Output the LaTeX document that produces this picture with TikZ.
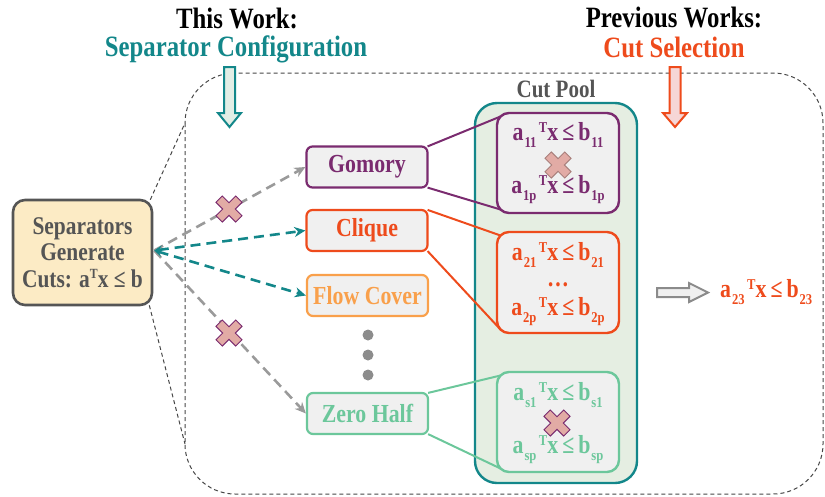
\documentclass[tikz,border=0pt]{standalone}
\usepackage{fontspec}
\setmainfont{Liberation Serif}[FakeStretch=0.84]
\usetikzlibrary{arrows.meta,calc}

\definecolor{teal}{HTML}{13878A}
\definecolor{cutred}{HTML}{EE4B1C}
\definecolor{purp}{HTML}{7A2B6F}
\definecolor{flowor}{HTML}{F9A04B}
\definecolor{zgreen}{HTML}{6CC79B}
\definecolor{sepgray}{HTML}{555555}
\definecolor{sepfill}{HTML}{FCEBC5}
\definecolor{boxfill}{HTML}{F0F0F0}
\definecolor{poolfill}{HTML}{E5EEE2}
\definecolor{crossfill}{HTML}{E2ABA5}
\definecolor{dotgray}{HTML}{8C8C8C}
\definecolor{arrgray}{HTML}{9A9A9A}
\definecolor{tealfill}{HTML}{E3EEE6}
\definecolor{redfill}{HTML}{F6D6D6}

\newcommand\ineqsz{\fontsize{26}{28}\selectfont}
\newcommand\smsz{\fontsize{15}{16}\selectfont}
% a_{i}^T x <= b_{i} set with lowered indices and a raised T
\newcommand\cutineq[2]{a\kern1pt\raisebox{-0.3em}{\smsz #1}\kern2.5pt\raisebox{0.3em}{\smsz T}x\kern4pt≤\kern4pt b\kern1pt\raisebox{-0.3em}{\smsz #2}}

\begin{document}
\begin{tikzpicture}[x=1pt,y=-1pt,font=\bfseries,
  txt/.style={inner sep=0pt},
  title/.style={txt,anchor=base,font=\bfseries\fontsize{29.5}{31}\selectfont},
  genbox/.style={draw,line width=2.2pt,rounded corners=6pt,fill=boxfill,
    minimum width=121pt,minimum height=41pt,inner sep=0pt,
    font=\bfseries\fontsize{26}{28}\selectfont},
  cutbox/.style={draw,line width=2.4pt,rounded corners=12pt,fill=boxfill,
    minimum width=122pt,minimum height=100pt,inner sep=0pt},
  funnel/.style={draw=black!72,line width=1pt,dash pattern=on 4pt off 3pt},
  flow/.style={line width=2.6pt,dash pattern=on 10pt off 6pt,
    -{Stealth[length=11pt,width=10pt,inset=3.5pt]}},
  link/.style={line width=2pt},
  xcross/.pic={\draw[line width=0.9pt,fill=crossfill,rotate=45,pic actions]
    (4.5,4.5)--(4.5,14)--(-4.5,14)--(-4.5,4.5)--(-14,4.5)--(-14,-4.5)
    --(-4.5,-4.5)--(-4.5,-14)--(4.5,-14)--(4.5,-4.5)--(14,-4.5)--(14,4.5)--cycle;}
]
\useasboundingbox (0,0) rectangle (825,496);

% enclosing dashed region
\draw[funnel,rounded corners=50pt] (185,73) rectangle (823,494);

% column titles and their block arrows
\node[title] (tw) at (237,28) {This Work:};
\node[title,text=teal] (sc) at (236,56) {Separator Configuration};
\node[title] (pw) at (674,27) {Previous Works:};
\node[title,text=cutred] (cs) at (674,57) {Cut Selection};
\draw[teal,line width=2pt,fill=tealfill,line join=miter]
  (224,67)--(235,67)--(235,113)--(241,113)--(229.5,127)--(218,113)--(224,113)--cycle;
\draw[cutred,line width=2pt,fill=redfill,line join=miter]
  (669.5,67)--(680.5,67)--(680.5,113)--(687,113)--(675,127)--(663,113)--(669.5,113)--cycle;

% cut pool
\node[txt,anchor=base,text=sepgray,font=\bfseries\fontsize{25}{27}\selectfont] (cpl) at (556,97) {Cut Pool};
\node[draw=teal,line width=2.4pt,rounded corners=22pt,fill=poolfill,
  minimum width=162pt,minimum height=380pt] (pool) at (556,293) {};

% separator box
\node[draw=sepgray,line width=2.6pt,rounded corners=12pt,fill=sepfill,
  minimum width=139pt,minimum height=105pt,align=center,text=sepgray,
  font=\bfseries\fontsize{25.5}{26.5}\selectfont] (sep) at (82.5,252.5)
  {Separators\\Generate\\Cuts: a\raisebox{0.35em}{\fontsize{14}{14}\selectfont T}x ≤ b};

\draw[funnel] ($(sep.north east)+(-3,1)$) -- (185,123);
\draw[funnel] ($(sep.south east)+(-4,-1)$) -- (185,444);

% separators
\node[genbox,draw=purp,text=purp] (gom) at (367,167) {Gomory};
\node[genbox,draw=cutred,text=cutred] (clq) at (367,230.5) {Clique};
\node[genbox,draw=flowor,text=flowor] (flw) at (367.5,295.5) {Flow Cover};
\node[genbox,draw=zgreen,text=zgreen] (zh) at (367.5,413.5) {Zero Half};
\fill[dotgray] (368,335) circle (5.5) (368,355) circle (5.5) (368,375) circle (5.5);

% configuration arrows
\coordinate (src) at ($(sep.east)+(1,-2)$);
\draw[flow,arrgray] (src) -- (gom.west);
\draw[flow,arrgray] (src) -- (zh.west);
\draw[flow,teal,{Stealth[length=8pt,width=8pt,inset=3pt]}-{Stealth[length=11pt,width=10pt,inset=3.5pt]}] (src) -- (clq.west);
\draw[flow,teal,{Stealth[length=8pt,width=8pt,inset=3pt]}-{Stealth[length=11pt,width=10pt,inset=3.5pt]}] (src) -- (flw.west);
\pic[draw=purp] at (229,209) {xcross};
\pic[draw=purp] at (229,333) {xcross};

% cut boxes
\coordinate (c1c) at (558,163);
\coordinate (c2c) at (558,282.5);
\coordinate (c3c) at (558,422);
\draw[link,purp] ($(gom.north east)+(-1,1)$) -- ($(c1c)+(-57.5,-46.5)$);
\draw[link,purp] ($(gom.south east)+(-1,-1)$) -- ($(c1c)+(-57.5,46.5)$);
\draw[link,cutred] ($(clq.north east)+(-1,1)$) -- ($(c2c)+(-57.5,-47)$);
\draw[link,cutred] ($(clq.south east)+(-1,-1)$) -- ($(c2c)+(-57.5,47)$);
\draw[link,zgreen] ($(zh.north east)+(-1,1)$) -- ($(c3c)+(-57.5,-46.5)$);
\draw[link,zgreen] ($(zh.south east)+(-1,-1)$) -- ($(c3c)+(-57.5,46.5)$);

\node[cutbox,draw=purp] (c1) at (c1c) {};
\node[cutbox,draw=cutred,minimum height=101pt] (c2) at (c2c) {};
\node[cutbox,draw=zgreen] (c3) at (c3c) {};

\node[txt,anchor=base,text=purp] (e11) at (558,140) {\ineqsz\cutineq{11}{11}};
\node[txt,anchor=base,text=purp] (e1p) at (558,193) {\ineqsz\cutineq{1p}{1p}};
\pic[draw=crossfill!75!black] at (558,165) {xcross};
\node[txt,anchor=base,text=cutred] (e21) at (558,260) {\ineqsz\cutineq{21}{21}};
\node[txt,anchor=base,text=cutred] (edots) at (558,286) {\ineqsz …};
\node[txt,anchor=base,text=cutred] (e2p) at (558,315) {\ineqsz\cutineq{2p}{2p}};
\node[txt,anchor=base,text=zgreen] (es1) at (558,400) {\ineqsz\cutineq{s1}{s1}};
\node[txt,anchor=base,text=zgreen] (esp) at (558,453) {\ineqsz\cutineq{sp}{sp}};
\pic[draw=purp] at (557,423) {xcross};

% selected cut
\draw[arrgray!90!black,line width=2pt,fill=boxfill,line join=miter]
  (657,288)--(689,288)--(689,283)--(708,292.5)--(689,302)--(689,297)--(657,297)--cycle;
\node[txt,anchor=base west,text=cutred] (e23) at (720,297) {\ineqsz\cutineq{23}{23}};
\end{tikzpicture}
\end{document}
